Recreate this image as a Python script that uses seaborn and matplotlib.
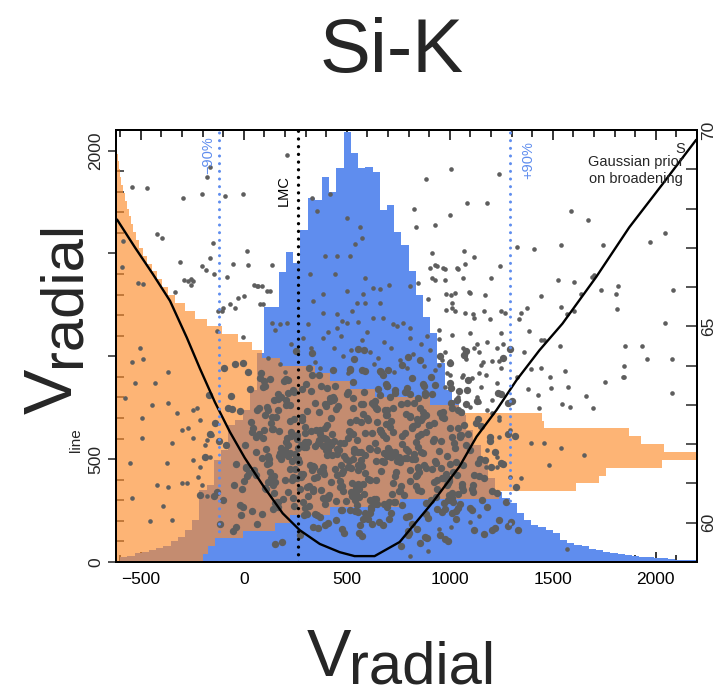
import numpy as np
import pandas as pd
import matplotlib
matplotlib.use('Agg')
import matplotlib.pyplot as plt
from matplotlib.ticker import MultipleLocator
import seaborn as sns

# Blue histogram of Vradial (left axis counts), 35 km/s bins from -600 to 2200
blue_counts = [24, 29, 44, 49, 58, 68, 78, 102, 122, 156,
               204, 350, 374, 496, 544, 666, 690, 739, 836, 1016,
               1240, 1240, 1410, 1507, 1453, 1614, 1769, 1760, 1871, 1799,
               1915, 2090, 1988, 1915, 1920, 1896, 1711, 1735, 1604, 1541,
               1415, 1298, 1191, 1113, 967, 836, 787, 715, 642, 569,
               496, 408, 340, 311, 287, 238, 204, 180, 170, 156,
               141, 107, 92, 83, 78, 63, 58, 49, 44, 39,
               34, 29, 24, 24, 19, 19, 15, 10, 10, 10]

# Orange sideways histogram (right axis, 0.2 wide bins from 59 to 70), bar length in km/s
orange_len = [422, 446, 480, 616, 771, 843, 1037, 1377, 1861, 2234,
              2346, 2380, 2651, 2900, 2661, 2550, 2491, 2079, 2070, 1667,
              1522, 1255, 1134, 1037, 965, 795, 708, 659, 591, 514,
              441, 383, 334, 286, 252, 223, 199, 174, 150, 131,
              111, 97, 82, 73, 63, 53, 44, 34, 24, 19,
              15, 10, 5, 0, 0]

# Statistic curve (right axis)
curve_x = [-615, -528, -441, -358, -276, -213, -140, -67, 5, 93, 189, 272, 369, 466,
           538, 635, 757, 917, 1047, 1130, 1227, 1324, 1435, 1547, 1711, 1871, 2031, 2196]
curve_v = [67.72, 67.01, 66.33, 65.65, 64.71, 63.93, 63.07, 62.31, 61.65, 60.95, 60.24, 59.81, 59.46, 59.25,
           59.15, 59.15, 59.51, 60.52, 61.43, 62.19, 62.87, 63.63, 64.39, 65.07, 66.26, 67.52, 68.61, 69.75]

# Dense core of samples
core_x = [512, 283, 845, 97, 1030, 611, 405, 1120, 704, -76, 588, 890, 321, 733, 149,
          422, 1205, 677, 13, 559, 951, 248, 515, 1068, 391, 762, -163, 634, 909, 172,
          790, 118, 1042, 436, 553, 1283, 327, 868, 505, -17, 661, 1097, 362, 229, 725,
          938, 529, 206, 1143, 447, 820, -98, 571, 1012, 298, 639, 51, 855, 693, 1248,
          260, 616, 974, 7, 803, 431, 1166, 547, 135, 879, 470, 332, 1321, 588, 717,
          165, 1051, 398, 741, -41, 836, 359, 1085, 622, 256, 999, -212, 554, 77, 841,
          423, 1180, 294, 697, 923, 188, 517, 1039, -130, 758, 376, 612, 1241, 95, 828,
          340, 1017, 34, 679, 252, 1106, 486, 914, 146, 1330, 587, 451, -4, 952, 370,
          1060, 646, 215, 884, 59, 798, 477, 1157, 238, 571, 880, -139, 607, 1013, 182,
          732, 318, 1297, 549, 101, 962, 394, 1077, -39, 815, 482, 230, 1005, 665, 40,
          847, 201, 558, 1135, 383, 796, 23, 926, 513, 164, 882, 445, 1258, 307, 769,
          88, 690, 1054, 276, 869, 633, -186, 406, 991, 199, 577, 1112, 428, 770, 9,
          642, 973, 197, 1088, 526, 66, 807, 311, 1229, 586, 123, 954, 349, -56, 1035,
          263, 701, 478, 1171, 159, 848, 603, 28, 996, 414, 1290, 239, 684, 1062, 107,
          712, 387, -14, 667, 1003, 223, 540, 1126, 374, 839, 82, 792, 468, 1281, 161,
          556, 1044, 134, 722, 295, -87, 976, 431, 250, 1097, 574, 58, 858, 335, 1315,
          192, 664, 1011, 287, 803, -5, 537, 1152, 316, 829, 105, 990, 409, 623, 1193,
          843, 270, 680, -64, 1048, 392, 709, 126, 735, -144, 967, 303, 1071, 588, 76,
          403, 1205, 168, 850, 560, 47, 1019, 332, 694, 111, 886, 425, 1275, 242, 716,
          1057, 119, 648, 926, 3, 579, 370, 1134, 521, 154, 963, 505, -101, 1001, 236,
          791, 60, 1032, 397, 668, 1258, 213, 842, 530, -36, 805, 329, 1080, 551, 98,
          972, 419, 144, 1221, 585, 358, 925, -20, 640, 1010, 284, 697, 1116, 171, 763,
          289, 837, 72, 574, 1065, 216, 702, -115, 645, 981, 367, 1149, 527, 140, 855,
          678, 244, 1007, 14, 818, 451, 1220, 276, 789, 103, 1028, 534, 209, 961, -170,
          225, 899, 1115, 408, 732, 131, 657, 1302, 296, 993, 517, 27, 784, 1042, 363,
          752, 90, 876, 341, 1164, 570, 178, 911, -46, 638, 1081, 305, 845, 1250, 411,
          923, 386, 1052, 149, 766, -9, 987, 529, 241, 1106, 693, 110, 854, 404, 1285,
          125, 781, 338, 1018, 543, -118, 940, 393, 1136, 575, 217, 870, 476, 63, 808,
          997, 259, 662, 1200, 154, 816, 423, -54, 1036, 284, 689, 117, 859, 1195, 450,
          282, 939, 474, 1087, 93, 671, 1005, 206, 796, 372, 1233, 556, 41, 883, 515]
core_v = [61.58, 62.61, 60.83, 62.36, 60.09, 61.88, 63.44, 61.21, 60.53, 62.93, 62.29, 59.62, 61.48, 63.31, 60.76,
          62.00, 59.81, 63.75, 61.40, 60.86, 64.24, 61.76, 60.33, 62.50, 61.25, 59.41, 62.25, 63.00, 60.58, 61.69,
          63.42, 61.04, 60.73, 62.09, 64.43, 59.91, 62.33, 62.69, 61.43, 60.46, 63.86, 61.84, 59.87, 62.22, 62.93,
          60.87, 61.63, 63.65, 61.18, 60.55, 62.46, 63.95, 61.80, 60.25, 62.29, 63.11, 61.35, 59.49, 63.47, 61.53,
          62.12, 60.36, 62.66, 61.97, 59.74, 63.90, 61.15, 60.72, 62.39, 63.30, 61.46, 64.31, 60.91, 61.73, 62.60,
          60.54, 62.23, 62.96, 61.29, 64.03, 60.93, 62.04, 63.37, 59.96, 61.64, 62.40, 60.71, 61.81, 63.69, 61.22,
          62.67, 60.41, 61.92, 63.49, 61.03, 59.51, 62.30, 62.88, 60.78, 61.55, 63.49, 61.10, 60.06, 62.15, 63.06,
          61.41, 60.52, 62.57, 61.77, 64.38, 60.86, 62.02, 63.27, 61.20, 59.82, 63.86, 61.87, 60.40, 62.79, 62.27,
          60.99, 62.90, 61.71, 60.22, 62.18, 64.21, 61.27, 60.58, 63.38, 61.60, 59.63, 62.53, 61.90, 60.75, 63.19,
          61.80, 63.93, 60.03, 62.11, 62.74, 61.14, 60.47, 64.36, 61.49, 62.43, 60.82, 62.32, 63.43, 61.32, 60.29,
          63.17, 61.08, 60.65, 62.64, 61.95, 59.70, 63.83, 61.56, 62.34, 60.41, 63.24, 61.36, 64.19, 60.90, 62.00,
          60.23, 62.16, 62.82, 61.17, 63.54, 60.60, 61.67, 62.48, 59.53, 61.85, 63.03, 60.96, 62.25, 64.01, 61.42,
          62.92, 60.50, 61.74, 63.63, 61.01, 59.98, 62.68, 62.05, 60.76, 63.33, 61.52, 59.68, 62.37, 62.89, 61.21,
          61.91, 63.89, 60.33, 61.59, 62.68, 62.22, 60.09, 63.40, 61.11, 62.06, 64.42, 60.64, 62.88, 61.46, 60.87,
          63.20, 61.31, 60.20, 62.32, 63.56, 61.77, 60.57, 62.54, 62.13, 59.84, 63.80, 61.66, 61.06, 63.05, 60.54,
          61.48, 63.35, 61.13, 60.72, 62.44, 61.98, 59.59, 63.12, 61.38, 60.37, 63.89, 61.81, 62.61, 60.85, 62.20,
          60.61, 62.30, 62.92, 61.25, 60.16, 64.07, 61.88, 62.47, 60.94, 61.62, 63.48, 61.00, 59.99, 63.05, 62.08,
          62.51, 61.55, 60.48, 63.23, 62.19, 59.94, 61.83, 63.66, 61.18, 60.69, 62.81, 61.94, 64.26, 60.24, 62.27,
          61.73, 60.80, 63.14, 61.28, 59.73, 62.41, 62.04, 63.75, 60.40, 61.49, 62.75, 61.04, 60.54, 63.34, 61.67,
          60.92, 62.88, 61.85, 63.51, 61.07, 60.10, 62.36, 63.09, 61.39, 59.47, 62.70, 62.16, 60.58, 64.07, 61.57,
          63.06, 61.21, 60.30, 61.99, 63.84, 61.50, 60.79, 62.65, 62.26, 59.89, 63.27, 61.33, 61.97, 60.45, 63.61,
          61.15, 63.17, 60.97, 61.80, 64.39, 60.19, 62.13, 62.85, 61.08, 60.62, 63.41, 61.70, 59.81, 62.33, 63.02,
          60.52, 62.06, 62.92, 61.45, 60.83, 63.31, 61.90, 59.98, 62.56, 61.24, 63.77, 61.63, 60.68, 62.39, 62.91,
          62.23, 60.43, 63.06, 61.19, 63.68, 61.74, 59.86, 61.98, 62.77, 60.89, 61.54, 64.18, 62.15, 60.27, 63.24,
          61.36, 62.50, 60.77, 61.84, 63.37, 61.03, 60.01, 63.09, 62.06, 60.57, 63.89, 61.27, 62.29, 60.37, 62.82,
          60.80, 61.64, 63.48, 61.13, 59.72, 62.57, 61.78, 63.70, 60.96, 62.02, 63.02, 60.23, 61.39, 63.29, 61.92,
          62.53, 61.43, 60.47, 63.12, 62.22, 60.86, 61.69, 63.58, 61.17, 60.33, 62.74, 61.88, 64.15, 60.66, 62.26,
          61.62, 63.34, 60.82, 61.29, 62.62, 62.09, 60.34, 63.03, 61.52, 59.65, 63.63, 61.77, 60.93, 62.86, 61.06,
          60.71, 62.23, 63.26, 61.42, 60.50, 62.40, 61.99, 59.78, 63.13, 61.22, 63.52, 61.71, 60.80, 62.19, 62.89,
          62.70, 61.10, 60.32, 62.25, 63.45, 61.56, 60.69, 62.99, 61.83, 60.15, 63.30, 61.35, 62.32, 60.51, 63.91]

# Densest centre of the core
centre_x = [455, 712, 298, 861, 530, 377, 640, 205, 788, 469, 912, 335, 597, 150, 733,
            624, 263, 819, 508, 967, 412, 690, 181, 556, 874, 348, 761, 489, 1012, 271,
            383, 846, 577, 127, 705, 444, 931, 318, 659, 536, 797, 226, 604, 985, 431,
            752, 309, 498, 887, 193, 613, 364, 826, 547, 1040, 280, 675, 459, 744, 142,
            568, 934, 401, 246, 723, 486, 859, 337, 630, 168, 781, 520, 957, 372, 697,
            291, 662, 1003, 438, 583, 217, 806, 541, 357, 901, 476, 739, 112, 615, 844,
            518, 234, 767, 397, 948, 652, 312, 588, 871, 449, 183, 726, 563, 1027, 421,
            809, 466, 136, 679, 344, 917, 503, 259, 642, 789, 395, 975, 571, 223, 758,
            344, 601, 892, 482, 166, 730, 426, 1055, 553, 302, 836, 619, 204, 498, 779,
            646, 389, 957, 275, 532, 818, 131, 717, 461, 883, 578, 326, 995, 409, 691]
centre_v = [61.22, 62.45, 60.38, 61.79, 62.91, 60.84, 61.57, 63.12, 60.15, 62.03, 61.36, 59.88, 62.67, 61.04, 60.52,
            62.28, 61.63, 59.97, 63.34, 61.15, 60.71, 62.52, 61.90, 60.27, 61.48, 63.05, 60.93, 61.71, 62.19, 59.69,
            60.62, 61.94, 62.76, 61.28, 60.09, 63.48, 61.52, 60.43, 62.35, 61.81, 59.78, 62.58, 61.11, 60.96, 63.21,
            61.67, 62.84, 60.55, 61.39, 63.62, 60.24, 62.11, 61.75, 60.89, 62.40, 61.23, 59.93, 62.97, 61.58, 60.34,
            63.03, 60.66, 61.86, 62.63, 61.02, 59.74, 62.26, 61.44, 60.48, 63.29, 61.66, 60.78, 62.07, 61.32, 62.88,
            60.19, 62.37, 61.50, 63.15, 60.73, 61.98, 62.71, 60.31, 61.17, 62.49, 59.83, 61.70, 62.95, 60.58, 61.41,
            62.56, 61.09, 60.44, 62.14, 61.83, 63.41, 60.67, 61.26, 62.81, 60.07, 61.61, 62.32, 59.95, 61.91, 63.09,
            61.34, 60.91, 62.68, 61.55, 60.21, 62.09, 63.27, 61.13, 60.61, 61.88, 62.42, 60.36, 61.47, 62.99, 60.82,
            61.96, 62.61, 60.12, 61.31, 62.87, 60.53, 61.73, 62.23, 60.98, 63.53, 61.19, 60.40, 62.05, 61.63, 60.70,
            60.47, 62.16, 61.40, 60.85, 63.18, 61.62, 62.54, 60.26, 61.85, 62.30, 60.99, 63.36, 61.07, 60.63, 62.74]

# Samples just above the core
mid_pts = [(150, 64.90), (230, 64.55), (310, 65.05), (385, 64.70), (455, 64.95), (520, 64.40), (600, 64.85),
           (680, 64.60), (745, 65.00), (820, 64.30), (890, 64.75), (960, 64.15), (120, 64.20), (260, 64.35),
           (345, 64.10), (410, 64.85), (480, 64.25), (555, 65.12), (630, 64.05), (715, 64.45), (790, 63.95),
           (860, 64.55), (930, 63.90), (200, 63.85), (290, 64.70), (370, 63.95), (440, 64.45), (505, 63.80),
           (575, 64.65), (650, 64.20), (730, 63.85), (805, 64.70), (875, 64.00), (950, 64.90), (175, 64.05),
           (325, 64.45), (470, 64.75), (615, 64.35), (760, 64.15), (905, 64.40)]

# Sparse samples, upper left
upleft_pts = [(-542, 68.56), (-470, 68.53), (-295, 68.26), (-203, 68.38), (-92, 68.33), (-4, 68.36),
              (-179, 68.81), (-164, 69.06), (209, 69.37), (-421, 67.35), (-397, 67.24), (-150, 67.12),
              (-586, 67.17), (-591, 66.51), (-310, 66.64), (-164, 66.74), (-53, 66.59), (15, 66.92),
              (20, 66.56), (136, 66.56), (-203, 66.54), (-184, 66.43), (-145, 66.33), (-82, 66.26),
              (-290, 66.18), (-256, 66.21), (-256, 66.06), (49, 66.06), (68, 66.03), (88, 66.03),
              (112, 65.90), (-334, 65.88), (-513, 66.11), (-489, 66.08), (0, 65.78), (-29, 65.73),
              (-67, 65.57), (-43, 65.47), (-126, 65.40), (-101, 65.47), (93, 65.57), (-130, 64.89),
              (-4, 64.72), (354, 67.93), (417, 68.36), (330, 68.26)]

# Sparse samples, upper middle
upmid_pts = [(500, 67.75), (563, 67.52), (573, 67.24), (539, 67.09), (393, 66.79), (451, 66.79), (514, 66.79),
             (320, 66.33), (441, 66.33), (587, 66.23), (383, 65.83), (335, 65.65), (500, 65.90), (626, 65.98),
             (660, 65.95), (703, 66.06), (805, 66.03), (844, 66.11), (577, 65.83), (587, 65.60), (660, 65.60),
             (548, 65.60), (626, 65.22), (674, 65.22), (524, 65.40), (475, 65.14), (500, 65.09), (383, 65.35),
             (451, 65.32), (175, 65.07), (209, 65.09), (136, 65.09), (771, 65.09), (805, 64.97), (723, 65.07),
             (902, 66.49), (916, 66.23), (965, 66.49), (1033, 66.49), (984, 65.83), (1013, 65.47), (1120, 65.22),
             (1096, 65.85), (63, 66.03), (126, 65.90), (78, 65.57), (-106, 65.40), (-271, 66.16), (-247, 66.16)]

# Sparse samples, right
right_pts = [(1004, 69.01), (883, 68.74), (1237, 68.89), (1086, 68.13), (1183, 68.15), (824, 68.00), (999, 67.83),
             (834, 67.52), (926, 67.57), (1590, 67.93), (1673, 67.70), (2046, 67.37), (1973, 67.14), (1745, 67.07),
             (1542, 67.07), (1411, 66.97), (1328, 67.02), (916, 66.86), (1067, 66.92), (1120, 66.76), (1076, 66.59),
             (926, 66.56), (936, 66.54), (975, 66.46), (1038, 66.46), (1246, 66.54), (1202, 66.23), (1062, 66.23),
             (975, 66.18), (926, 66.18), (1527, 66.18), (1605, 66.13), (1702, 66.31), (1692, 66.26), (1818, 66.03),
             (1736, 65.93), (1808, 65.83), (2085, 65.93), (1639, 65.83), (1445, 65.78), (1173, 65.80), (1091, 65.88),
             (1023, 65.85), (1004, 65.80), (892, 65.70), (1013, 65.60), (984, 65.42), (1023, 65.40), (1072, 65.35),
             (1115, 65.32), (1168, 65.40), (1193, 65.20), (1251, 65.40), (1266, 65.35), (1348, 65.35), (1377, 65.47),
             (1338, 65.20), (1542, 65.50), (1571, 65.32), (1605, 65.40), (1813, 65.45), (2046, 65.09), (1387, 64.89),
             (1445, 64.66), (1459, 64.66), (1537, 64.51), (1852, 64.51), (1934, 64.49), (1958, 64.18), (2080, 64.16),
             (1847, 63.98), (1561, 63.86), (1488, 63.70), (1445, 63.93), (1396, 63.91), (1755, 63.58), (1576, 63.45),
             (1493, 63.43), (1382, 63.40), (1430, 63.25), (1547, 63.02), (1585, 62.94), (1663, 63.22), (1697, 62.92),
             (2080, 63.30), (1842, 63.70), (1847, 63.70), (1435, 62.92)]

# Samples around the +90% line
band_pts = [(950, 64.69), (975, 64.34), (999, 64.13), (1062, 64.44), (1072, 64.21), (1096, 64.82), (1130, 64.56),
            (1144, 64.34), (1159, 64.08), (1062, 63.75), (1110, 63.68), (1154, 63.45), (1178, 63.75), (1207, 64.13),
            (1227, 64.44), (1251, 64.82), (1256, 64.56), (1086, 63.37), (1130, 63.20), (1207, 63.12), (950, 64.01),
            (999, 63.75), (975, 63.45), (1057, 62.79), (1096, 62.94), (1183, 62.87), (1241, 62.69), (1038, 63.20),
            (1154, 64.01), (1251, 63.93), (1013, 64.77), (1120, 64.46), (1183, 64.59), (1362, 64.34), (1081, 64.18),
            (1241, 64.13), (989, 63.80), (1057, 63.70), (1144, 63.80), (1227, 63.55), (1328, 63.70), (1144, 63.07),
            (1207, 62.79), (1241, 62.62), (1290, 62.36), (1396, 62.03), (1459, 62.03), (1542, 61.91), (1653, 61.73),
            (1484, 61.48), (1348, 61.15), (1241, 62.19), (1227, 61.68), (1231, 61.43), (1290, 61.17), (1183, 61.86),
            (1178, 61.43), (950, 59.83), (1013, 60.26), (1096, 60.01), (1144, 60.16), (805, 59.15), (892, 59.28),
            (1008, 59.89), (1571, 59.33)]

# Sparse samples, lower left
lowleft_pts = [(-504, 64.44), (-542, 64.08), (-489, 64.18), (-368, 63.83), (-528, 63.55), (-431, 63.55),
               (-576, 63.17), (-445, 63.00), (-368, 63.05), (-494, 62.67), (-247, 62.87), (-324, 62.79),
               (-300, 62.36), (-271, 62.41), (-247, 62.16), (-494, 62.16), (-349, 62.03), (-552, 61.53),
               (-373, 61.53), (-421, 60.97), (-368, 60.92), (-300, 61.02), (-276, 61.02), (-542, 60.64),
               (-392, 60.42), (-455, 60.04), (-349, 60.06), (-247, 61.60), (-213, 61.43), (-223, 61.17),
               (-203, 60.97), (-179, 60.67), (-164, 61.68), (-189, 61.98), (-179, 62.11), (-155, 62.24),
               (-213, 62.62), (-227, 62.92)]

blue = '#5F8DEE'
orange = '#FC8C2C'
grey = '#5E5E5E'

sns.set_style('ticks')
plt.rcParams['font.family'] = ['Liberation Sans', 'DejaVu Sans']

W, H = 717, 697
fig = plt.figure(figsize=(W / 100, H / 100), dpi=100)
rect = [116 / W, 1 - 562 / H, 581 / W, 432 / H]

# Main axes: blue histogram
ax = fig.add_axes(rect)
blue_df = pd.DataFrame({'vrad': np.arange(-600, 2200, 35) + 17.5, 'n': blue_counts})
sns.histplot(data=blue_df, x='vrad', weights='n', binwidth=35, binrange=(-600, 2200),
             element='step', fill=True, color=blue, alpha=1, linewidth=0, ax=ax)

# Overlay axes: orange sideways histogram starting at the left edge
axo = fig.add_axes(rect)
orange_df = pd.DataFrame({'stat': np.linspace(59.1, 69.9, 55), 'n': orange_len})
sns.histplot(data=orange_df, y='stat', weights='n', binwidth=0.2, binrange=(59, 70),
             element='step', fill=True, color=orange, alpha=0.65, linewidth=0, ax=axo)
axo.set_xlim(0, 2820)
axo.set_ylim(59, 70)
axo.axis('off')

# Right axis: samples, curve, markers
axr = ax.twinx()
dense_df = pd.DataFrame({'vrad': core_x + centre_x, 'stat': core_v + centre_v})
sparse_x, sparse_v = [], []
for group in [mid_pts, upleft_pts, upmid_pts, right_pts, band_pts, lowleft_pts]:
    sparse_x += [p[0] for p in group]
    sparse_v += [p[1] for p in group]
sparse_df = pd.DataFrame({'vrad': sparse_x, 'stat': sparse_v})
sns.scatterplot(data=dense_df, x='vrad', y='stat', s=28, color=grey, linewidth=0, ax=axr, legend=False)
sns.scatterplot(data=sparse_df, x='vrad', y='stat', s=11, color=grey, linewidth=0, ax=axr, legend=False)
curve_df = pd.DataFrame({'vrad': curve_x, 'stat': curve_v})
sns.lineplot(data=curve_df, x='vrad', y='stat', color='black', linewidth=1.7, sort=False,
             estimator=None, ax=axr)

axr.axvline(262, color='black', lw=2.4, ls=(0, (0.01, 2.3)), dash_capstyle='round')
axr.axvline(-120, color=blue, lw=2.2, ls=(0, (0.01, 2.5)), dash_capstyle='round')
axr.axvline(1290, color=blue, lw=2.2, ls=(0, (0.01, 2.5)), dash_capstyle='round')

tr = axr.get_xaxis_transform()
axr.text(-140, 0.985, '\u221290%', transform=tr, rotation=90, ha='right', va='top', color=blue, fontsize=10.5)
axr.text(230, 0.895, 'LMC', transform=tr, rotation=90, ha='right', va='top', color='black', fontsize=10.5)
axr.text(1345, 0.975, '+90%', transform=tr, rotation=90, ha='left', va='top', color=blue, fontsize=10.5)
axr.text(2140, 0.972, 'S', transform=tr, ha='right', va='top', fontsize=10.5)
axr.text(1905, 0.942, 'Gaussian prior\non broadening', transform=tr, ha='center', va='top',
         fontsize=10.5, linespacing=1.3)

# Axes limits and ticks
ax.set_xlim(-620, 2200)
ax.set_ylim(0, 2100)
axr.set_ylim(59, 70)
ax.set_xticks([-500, 0, 500, 1000, 1500, 2000])
ax.xaxis.set_minor_locator(MultipleLocator(100))
ax.set_yticks([0, 500, 1000, 1500, 2000])
ax.set_yticklabels(['0', '500', '', '', '2000'])
ax.yaxis.set_minor_locator(MultipleLocator(100))
axr.set_yticks([60, 65, 70])
axr.yaxis.set_minor_locator(MultipleLocator(1))

ax.tick_params(axis='x', which='both', direction='in', top=True, bottom=True, width=1.1,
               labelsize=12.5, pad=7, colors='black')
ax.tick_params(axis='x', which='major', length=7)
ax.tick_params(axis='x', which='minor', length=5)
ax.tick_params(axis='y', which='major', direction='out', length=6, width=1.1, pad=3, labelsize=12.5)
ax.tick_params(axis='y', which='minor', direction='in', length=6, width=1.1)
axr.tick_params(axis='y', which='both', direction='in', length=8, width=1.1, pad=3, labelsize=12.5)
for lab in ax.get_yticklabels() + axr.get_yticklabels():
    lab.set_rotation(90)
    lab.set_va('center')

for a in [ax, axr]:
    a.set_xlabel('')
    a.set_ylabel('')
    for sp in a.spines.values():
        sp.set_visible(True)
        sp.set_linewidth(1.4)
        sp.set_color('black')

# Title and axis labels placed in figure pixels
def fx(px):
    return px / W

def fy(py):
    return 1 - py / H

fig.text(fx(392), fy(72), 'Si-K', ha='center', va='baseline', fontsize=55)
fig.text(fx(307), fy(676), 'V', ha='left', va='baseline', fontsize=48)
fig.text(fx(349), fy(684), 'radial', ha='left', va='baseline', fontsize=43)
fig.text(fx(72), fy(414), 'V', rotation=90, rotation_mode='anchor', ha='left', va='baseline', fontsize=49)
fig.text(fx(80), fy(367), 'radial', rotation=90, rotation_mode='anchor', ha='left', va='baseline', fontsize=43)
fig.text(fx(80), fy(452), 'line', rotation=90, rotation_mode='anchor', ha='left', va='baseline', fontsize=11)

fig.savefig('out.png', dpi=100)
